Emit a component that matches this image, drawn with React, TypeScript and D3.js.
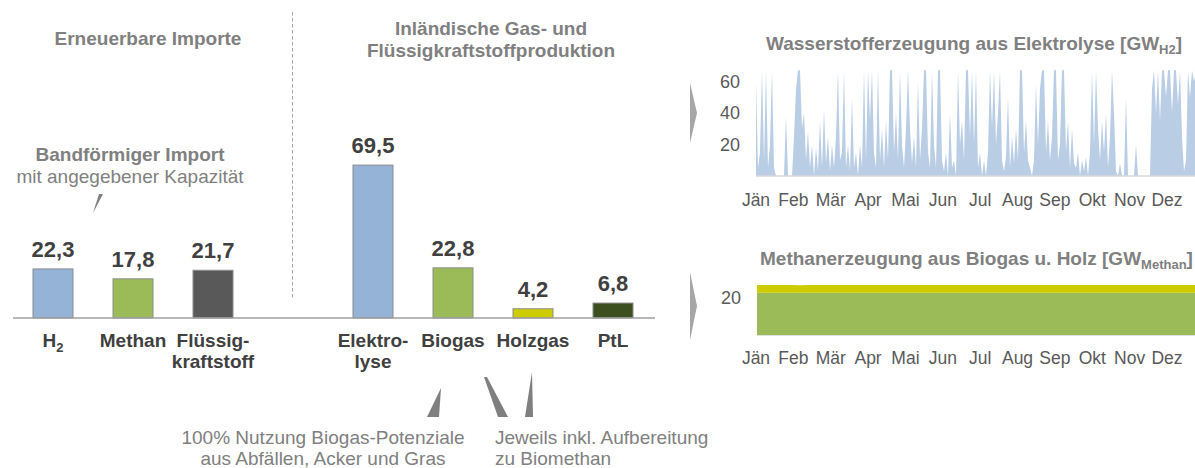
import React from "react";
import * as d3 from "d3";

// ---------- DATA ----------
const barCategories = ["H2", "Methan", "Flüssigkraftstoff", "gap", "Elektrolyse", "Biogas", "Holzgas", "PtL"];
const barValues: (number | null)[] = [22.3, 17.8, 21.7, null, 69.5, 22.8, 4.2, 6.8];
const barLabelLines: string[][] = [["H2"], ["Methan"], ["Flüssig-", "kraftstoff"], [], ["Elektro-", "lyse"], ["Biogas"], ["Holzgas"], ["PtL"]];

const months = ["Jän", "Feb", "Mär", "Apr", "Mai", "Jun", "Jul", "Aug", "Sep", "Okt", "Nov", "Dez"];

// Hydrogen from electrolysis [GW_H2], read roughly every ~1.65 days across the year
const h2Series = [
  60, 5, 15, 67, 10, 67, 5, 20, 67, 5,
  0, 0, 0, 0, 0, 38, 0, 0, 0, 25,
  55, 67, 67, 30, 40, 10, 28, 5, 20, 0,
  18, 3, 35, 5, 42, 8, 25, 3, 20, 5,
  25, 67, 10, 15, 67, 5, 20, 3, 50, 5,
  15, 0, 20, 5, 67, 10, 67, 35, 67, 15,
  5, 67, 10, 30, 5, 35, 10, 67, 67, 15,
  40, 10, 67, 20, 5, 30, 67, 30, 8, 25,
  5, 60, 10, 30, 67, 67, 15, 5, 67, 20,
  5, 67, 67, 10, 3, 15, 0, 40, 5, 10,
  0, 67, 20, 35, 10, 67, 67, 25, 67, 20,
  67, 5, 15, 0, 10, 0, 15, 67, 30, 67,
  20, 40, 67, 10, 3, 12, 50, 5, 25, 8,
  30, 10, 67, 67, 15, 35, 10, 5, 0, 10,
  58, 20, 55, 67, 67, 15, 35, 10, 25, 67,
  67, 10, 20, 67, 67, 15, 35, 5, 30, 8,
  5, 15, 0, 10, 3, 12, 0, 15, 67, 20,
  67, 30, 10, 35, 15, 40, 5, 25, 67, 40,
  3, 0, 8, 0, 0, 50, 0, 0, 0, 0,
  20, 0, 0, 0, 0, 0, 0, 0, 55, 67,
  40, 67, 35, 67, 67, 50, 67, 67, 40, 67,
  67, 45, 67, 25, 3, 10, 67, 50, 67, 60,
  67,
];
const h2Ticks = [20, 40, 60];

// Methane from biogas and wood [GW_Methan], weekly
const biogasSeries = [
  22.8, 22.8, 22.8, 22.8, 22.8, 22.8, 22.8, 22.8, 22.8, 22.8, 22.8, 22.8, 22.8,
  22.8, 22.8, 22.8, 22.8, 22.8, 22.8, 22.8, 22.8, 22.8, 22.8, 22.8, 22.8, 22.8,
  22.8, 22.8, 22.8, 22.8, 22.8, 22.8, 22.8, 22.8, 22.8, 22.8, 22.8, 22.8, 22.8,
  22.8, 22.8, 22.8, 22.8, 22.8, 22.8, 22.8, 22.8, 22.8, 22.8, 22.8, 22.8, 22.8,
];
const holzgasSeries = [
  4.2, 4.2, 4.2, 4.2, 4.2, 4.1, 4.2, 4.2, 4.2, 4.2, 4.2, 4.2, 4.2,
  4.2, 4.2, 4.2, 4.2, 4.2, 4.2, 4.2, 4.2, 4.2, 4.2, 4.2, 4.2, 4.2,
  4.2, 4.2, 4.2, 4.2, 4.2, 4.2, 4.2, 4.2, 4.2, 4.2, 4.2, 4.2, 4.2,
  4.2, 4.2, 4.2, 4.2, 4.2, 4.2, 4.2, 4.2, 4.2, 4.2, 4.2, 4.2, 4.2,
];
const methanTicks = [20];

// ---------- STYLE ----------
const FONT = "'Liberation Sans', Arial, Helvetica, sans-serif";
const barColors: Record<string, string> = {
  H2: "#95b3d7",
  Methan: "#9bbb59",
  "Flüssigkraftstoff": "#595959",
  Elektrolyse: "#95b3d7",
  Biogas: "#9bbb59",
  Holzgas: "#cccc00",
  PtL: "#3b4f1f",
};
const GREY_HEAD = "#808080";
const DARK = "#404040";
const TICK = "#595959";

const fmtLocale = d3.formatLocale({ decimal: ",", thousands: ".", grouping: [3], currency: ["", "€"] });
const fmt = fmtLocale.format(".1f");

export default function App() {
  // bar chart scales
  const xBand = d3.scaleBand<string>().domain(barCategories).range([13, 653]).paddingInner(0.5).paddingOuter(0.25);
  const yBar = d3.scaleLinear().domain([0, 70]).range([318, 164]);

  // hydrogen area
  const xH2 = d3.scaleLinear().domain([0, h2Series.length - 1]).range([756, 1196]);
  const yH2 = d3.scaleLinear().domain([0, 70]).range([176, 65.4]);
  const h2Area = d3
    .area<number>()
    .x((_, i) => xH2(i))
    .y0(yH2(0))
    .y1((d) => yH2(d))
    .curve(d3.curveLinear);

  // methane stacked area
  const xM = d3.scaleLinear().domain([0, biogasSeries.length - 1]).range([757, 1196]);
  const yM = d3.scaleLinear().domain([0, 27]).range([335, 285]);
  const greenArea = d3
    .area<number>()
    .x((_, i) => xM(i))
    .y0(yM(0))
    .y1((d) => yM(d));
  const yellowArea = d3
    .area<number>()
    .x((_, i) => xM(i))
    .y0((_, i) => yM(biogasSeries[i]))
    .y1((d, i) => yM(biogasSeries[i] + d));

  const xMonth = d3.scalePoint<string>().domain(months).range([756, 1167]);

  return (
    <div style={{ position: "absolute", left: 0, top: 0 }}>
      <svg width={1195} height={468} style={{ display: "block", fontFamily: FONT }}>
        <rect x={0} y={0} width={1195} height={468} fill="#ffffff" />

        {/* Headers */}
        <text x={148} y={45} textAnchor="middle" fontSize={19} fontWeight="bold" fill={GREY_HEAD}>
          Erneuerbare Importe
        </text>
        <text x={491} y={35} textAnchor="middle" fontSize={19} fontWeight="bold" fill={GREY_HEAD}>
          Inländische Gas- und
        </text>
        <text x={491} y={57} textAnchor="middle" fontSize={19} fontWeight="bold" fill={GREY_HEAD}>
          Flüssigkraftstoffproduktion
        </text>

        {/* dashed separator */}
        <line x1={292.5} x2={292.5} y1={12} y2={300} stroke="#a6a6a6" strokeWidth={1} strokeDasharray="3.5,2.5" />

        {/* Band import annotation */}
        <text x={130} y={161} textAnchor="middle" fontSize={19} fontWeight="bold" fill={GREY_HEAD}>
          Bandförmiger Import
        </text>
        <text x={130} y={183} textAnchor="middle" fontSize={19} fill={GREY_HEAD}>
          mit angegebener Kapazität
        </text>
        <polygon points="99,194 103,194 93,213" fill="#7f7f7f" />

        {/* Bars */}
        {barCategories.map((c, i) => {
          const v = barValues[i];
          if (v == null) return null;
          const x = xBand(c)!;
          const w = xBand.bandwidth();
          return (
            <g key={c}>
              <rect x={x} y={yBar(v)} width={w} height={yBar(0) - yBar(v)} fill={barColors[c]} stroke="#8c8c8c" strokeWidth={1} />
              <text x={x + w / 2} y={yBar(v) - 12} textAnchor="middle" fontSize={22} fontWeight="bold" fill={DARK}>
                {fmt(v)}
              </text>
            </g>
          );
        })}
        <line x1={13} x2={655} y1={318} y2={318} stroke="#a0a0a0" strokeWidth={1.3} />

        {/* Category labels */}
        {barCategories.map((c, i) => {
          const lines = barLabelLines[i];
          if (!lines.length) return null;
          const cx = xBand(c)! + xBand.bandwidth() / 2;
          return (
            <text key={c} x={cx} y={347} textAnchor="middle" fontSize={19} fontWeight="bold" fill={DARK}>
              {c === "H2" ? (
                <>
                  H<tspan fontSize={13} dy={5}>2</tspan>
                </>
              ) : (
                lines.map((l, j) => (
                  <tspan key={j} x={cx} dy={j === 0 ? 0 : 21}>
                    {l}
                  </tspan>
                ))
              )}
            </text>
          );
        })}

        {/* Bottom annotation wedges */}
        <polygon points="441,388 427,417 439,417" fill="#7f7f7f" />
        <polygon points="484,377 487,377 508,417 498,417" fill="#7f7f7f" />
        <polygon points="532,372 525,417 533,417" fill="#7f7f7f" />

        <text x={323} y={444} textAnchor="middle" fontSize={19} fill={GREY_HEAD}>
          100% Nutzung Biogas-Potenziale
        </text>
        <text x={323} y={465} textAnchor="middle" fontSize={19} fill={GREY_HEAD}>
          aus Abfällen, Acker und Gras
        </text>
        <text x={495} y={444} fontSize={19} fill={GREY_HEAD}>
          Jeweils inkl. Aufbereitung
        </text>
        <text x={495} y={465} fontSize={19} fill={GREY_HEAD}>
          zu Biomethan
        </text>

        {/* Chevrons */}
        <polygon points="690,83 697,113 690,143" fill="#a6a6a6" />
        <polygon points="690,272 697,306 690,340" fill="#a6a6a6" />

        {/* Hydrogen chart */}
        <text x={766} y={50} fontSize={19} fontWeight="bold" fill={GREY_HEAD}>
          Wasserstofferzeugung aus Elektrolyse [GW
          <tspan fontSize={13} dy={4}>H2</tspan>
          <tspan dy={-4}>]</tspan>
        </text>
        <path d={h2Area(h2Series) || ""} fill="#b9cde5" />
        <line x1={756} x2={1195} y1={176} y2={176} stroke="#d9d9d9" strokeWidth={1.5} />
        {h2Ticks.map((t) => (
          <text key={t} x={740} y={yH2(t)} dy="0.35em" textAnchor="end" fontSize={18} fill={TICK}>
            {t}
          </text>
        ))}
        {months.map((m) => (
          <text key={m} x={xMonth(m)} y={206} textAnchor="middle" fontSize={17.5} fill={TICK}>
            {m}
          </text>
        ))}

        {/* Methane chart */}
        <text x={760} y={265} fontSize={19} fontWeight="bold" fill={GREY_HEAD}>
          Methanerzeugung aus Biogas u. Holz [GW
          <tspan fontSize={13} dy={4}>Methan</tspan>
          <tspan dy={-4}>]</tspan>
        </text>
        <path d={greenArea(biogasSeries) || ""} fill="#9bbb59" />
        <path d={yellowArea(holzgasSeries) || ""} fill="#cccc00" />
        <line x1={757} x2={1195} y1={335.5} y2={335.5} stroke="#e0e0e0" strokeWidth={1} />
        {methanTicks.map((t) => (
          <text key={t} x={741} y={yM(t)} dy="0.35em" textAnchor="end" fontSize={18} fill={TICK}>
            {t}
          </text>
        ))}
        {months.map((m) => (
          <text key={m} x={xMonth(m)} y={364} textAnchor="middle" fontSize={17.5} fill={TICK}>
            {m}
          </text>
        ))}
      </svg>
    </div>
  );
}
